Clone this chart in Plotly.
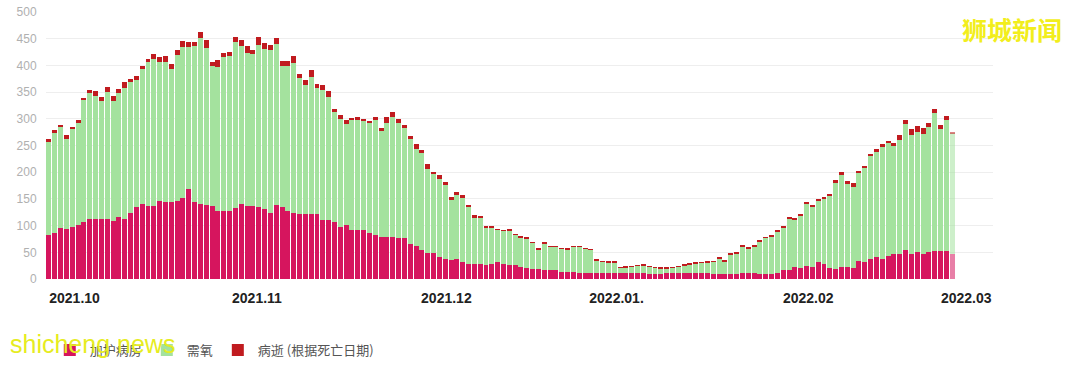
import plotly.graph_objects as go

# ---- data ----
icu = [82,87,95,94,98,102,107,113,112,112,112,109,116,113,123,134,141,137,137,146,
       144,144,146,152,168,144,141,138,137,128,128,128,133,141,136,136,134,131,124,138,
       134,127,123,121,121,121,121,111,111,107,98,102,92,92,
       92,86,83,78,79,79,76,76,66,61,54,49,49,41,37,36,38,32,28,28,
       29,27,28,31,28,27,26,23,21,18,18,17,16,16,14,14,14,12,12,12,
       12,12,12,12,11,11,11,11,11,9,9,10,11,11,
       11,11,12,12,12,12,10,9,9,9,9,11,11,11,10,10,10,12,16,16,
       23,21,25,23,32,28,20,19,22,22,21,34,32,38,42,38,44,46,46,54,
       47,51,47,51,53,52,52,46]
oxygen = [175,187,189,168,183,191,230,235,231,222,239,225,232,244,246,239,253,269,275,260,
          263,250,273,282,266,292,310,295,261,269,288,290,310,295,287,285,304,300,304,303,
          265,272,281,255,243,257,236,243,230,206,201,189,205,206,
          205,207,215,200,214,224,217,206,196,183,182,157,149,146,139,112,120,120,106,88,
          87,69,69,61,62,64,57,55,55,50,38,50,44,44,43,42,46,48,45,43,
          22,20,18,19,10,11,12,14,15,14,12,10,9,10,
          12,15,16,17,18,19,22,29,24,36,39,50,47,49,61,67,70,77,80,97,
          88,98,115,112,115,123,136,161,172,156,151,164,175,192,196,210,211,204,215,236,
          222,225,225,234,257,228,246,227]
deaths = [5,5,5,8,3,5,2,6,10,6,8,8,8,12,5,8,4,6,10,10,
          11,9,10,12,9,7,11,15,9,14,8,8,10,11,14,7,16,11,11,10,
          10,10,13,8,9,13,9,9,12,6,8,7,5,5,
          2,2,5,5,11,10,7,7,6,9,6,10,2,8,5,5,4,5,5,3,
          2,2,2,1,1,3,1,1,1,1,1,1,1,1,1,1,1,1,1,1,
          3,1,2,2,1,1,1,1,1,1,1,1,2,1,
          1,1,1,2,1,2,1,3,1,2,1,2,1,2,2,1,3,3,3,4,
          2,3,4,3,3,2,4,5,6,6,7,5,5,5,5,4,4,4,8,7,
          12,10,10,7,8,9,8,3]
tick_labels = ["2021.10", "2021.11", "2021.12", "2022.01.", "2022.02", "2022.03"]
tick_index = [4.4, 35.7, 68.2, 97.4, 130.3, 157.4]
series_names = ["加护病房", "需氧", "病逝 (根据死亡日期)"]

n = len(icu)
x = list(range(n))
opac = [1.0] * (n - 1) + [0.55]

colors = ["#d6155e", "#a4e29e", "#c01b1f"]

fig = go.Figure()
for vals, name, col in zip([icu, oxygen, deaths], series_names, colors):
    fig.add_trace(go.Bar(x=x, y=vals, name=name,
                         marker=dict(color=col, opacity=opac, line=dict(width=0))))

fig.update_layout(
    width=1080, height=365,
    margin=dict(l=46.4, r=86.9, t=12, b=86, autoexpand=False),
    barmode="stack", bargap=0.15,
    plot_bgcolor="white", paper_bgcolor="white",
    font=dict(family="Liberation Sans, Arial, sans-serif"),
    legend=dict(orientation="h", x=0.004, y=-0.21, xanchor="left", yanchor="top",
                traceorder="normal", itemwidth=30,
                font=dict(family="Noto Sans CJK SC", size=13, color="#555555")),
    showlegend=True,
)
fig.update_xaxes(range=[-0.5, 162], tickmode="array", tickvals=tick_index, ticktext=tick_labels,
                 tickfont=dict(size=14, color="#222222", family="Liberation Sans", weight="bold"),
                 ticks="outside", ticklen=6, tickcolor="rgba(0,0,0,0)",
                 showgrid=False, zeroline=False, showline=False)
fig.update_yaxes(range=[0, 500], dtick=50,
                 tickfont=dict(size=12, color="#b0b0b0"),
                 ticks="outside", ticklen=6, tickcolor="rgba(0,0,0,0)",
                 ticklabeloverflow="allow",
                 gridcolor="#eeeeee", zeroline=False, showline=False)

fig.add_annotation(xref="paper", yref="paper", x=0.049, y=-0.245, text="shicheng news",
                   showarrow=False, xanchor="center", yanchor="middle",
                   font=dict(family="Liberation Sans", size=25, color="#e6ec22"))
fig.add_annotation(xref="paper", yref="paper", x=1.02, y=0.935, text="狮城新闻",
                   showarrow=False, xanchor="center", yanchor="middle",
                   font=dict(family="Noto Sans CJK SC", size=25, color="#f2ee1c", weight="bold"))

# remove the default page margin so the figure sits at the window's top-left corner
fig.write_html("out.html", config={"displayModeBar": False},
               post_script="document.body.style.margin='0';")
